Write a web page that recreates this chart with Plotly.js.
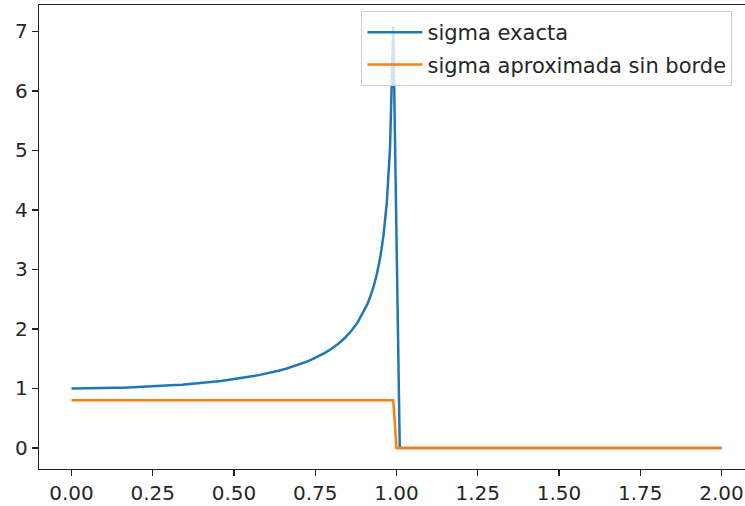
<!DOCTYPE html>
<html>
<head>
<meta charset="utf-8">
<script src="https://cdn.plot.ly/plotly-3.0.1.min.js"></script>
<style>
html, body { margin: 0; padding: 0; overflow: hidden; background: #fff; }
#chart { width: 760px; height: 506px; }
</style>
</head>
<body>
<div id="chart"></div>
<script>
const exactX = [0, 0.02, 0.04, 0.06, 0.08, 0.10, 0.12, 0.14, 0.16, 0.18, 0.20, 0.22, 0.24, 0.26, 0.28, 0.30, 0.32, 0.34, 0.36, 0.38, 0.40, 0.42, 0.44, 0.46, 0.48, 0.50, 0.52, 0.54, 0.56, 0.58, 0.60, 0.62, 0.64, 0.66, 0.68, 0.70, 0.72, 0.74, 0.76, 0.78, 0.80, 0.82, 0.84, 0.86, 0.88, 0.90, 0.91, 0.92, 0.93, 0.94, 0.95, 0.96, 0.97, 0.98, 0.99, 1.01, 1.25, 1.50, 1.75, 2.00];
const exactY = [1.000, 1.000, 1.001, 1.002, 1.003, 1.005, 1.007, 1.010, 1.013, 1.017, 1.021, 1.025, 1.030, 1.036, 1.042, 1.048, 1.056, 1.063, 1.072, 1.081, 1.091, 1.102, 1.114, 1.126, 1.140, 1.155, 1.171, 1.188, 1.207, 1.228, 1.250, 1.275, 1.301, 1.331, 1.364, 1.400, 1.441, 1.487, 1.539, 1.598, 1.667, 1.747, 1.843, 1.960, 2.105, 2.294, 2.412, 2.552, 2.721, 2.931, 3.203, 3.571, 4.113, 5.025, 7.089, 0, 0, 0, 0, 0];
const approxX = [0, 0.25, 0.50, 0.75, 0.99, 1.00, 1.25, 1.50, 1.75, 2.00];
const approxY = [0.8, 0.8, 0.8, 0.8, 0.8, 0, 0, 0, 0, 0];
const names = ["sigma exacta", "sigma aproximada sin borde"];
const xTicks = [0, 0.25, 0.5, 0.75, 1.0, 1.25, 1.5, 1.75, 2.0];
const xTickText = ["0.00", "0.25", "0.50", "0.75", "1.00", "1.25", "1.50", "1.75", "2.00"];
const yTicks = [0, 1, 2, 3, 4, 5, 6, 7];

const tickFont = { family: "DejaVu Sans", size: 20, color: "#262626" };
const legendFont = { family: "DejaVu Sans", size: 21, color: "#262626" };
const traces = [
  { x: exactX, y: exactY, mode: "lines", name: names[0], legendgroup: "a", line: { color: "#1f77b4", width: 2.5 } },
  { x: approxX, y: approxY, mode: "lines", name: names[1], legendgroup: "b", line: { color: "#ff7f0e", width: 2.5 } }
];
const axisCommon = {
  showgrid: false, zeroline: false, showline: true, mirror: true,
  linecolor: "#222", linewidth: 1.3, ticks: "outside", ticklen: 6, tickwidth: 1.3,
  tickcolor: "#222", tickfont: tickFont
};
const layout = {
  width: 760, height: 506,
  margin: { l: 39, r: 6, t: 5, b: 37 },
  paper_bgcolor: "#fff", plot_bgcolor: "#fff",
  font: tickFont,
  showlegend: true,
  legend: {
    x: 0.451, y: 0.987, xanchor: "left", yanchor: "top",
    bgcolor: "rgba(255,255,255,0.8)", bordercolor: "#d0d0d0", borderwidth: 1,
    font: legendFont, itemwidth: 55, traceorder: "grouped", tracegroupgap: 2
  },
  xaxis: Object.assign({}, axisCommon, { range: [-0.1, 2.1], tickvals: xTicks, ticktext: xTickText }),
  yaxis: Object.assign({}, axisCommon, { range: [-0.354, 7.443], tickvals: yTicks })
};
Plotly.newPlot("chart", traces, layout, { displayModeBar: false, staticPlot: true });
</script>
</body>
</html>
